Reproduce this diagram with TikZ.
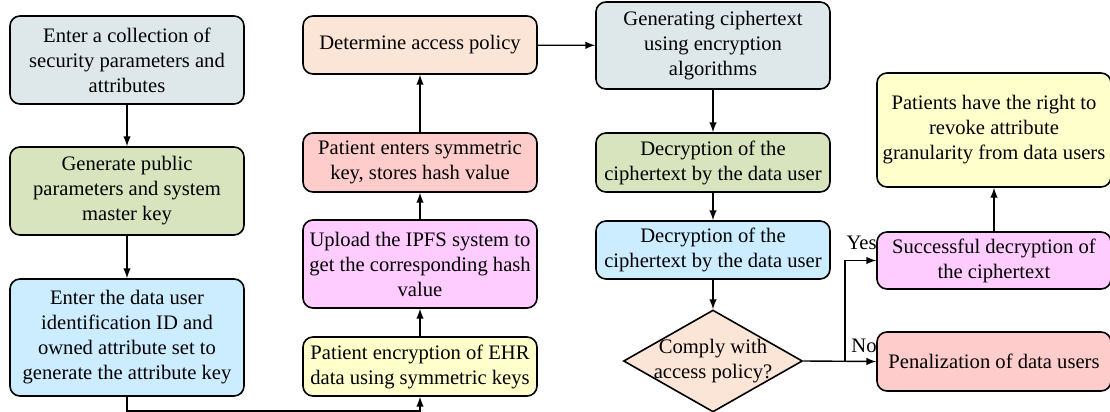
\documentclass[tikz,border=0pt]{standalone}
\usepackage{fontspec}
\setmainfont{Liberation Serif}
\newfontfamily\timesfont{Liberation Serif}
\usepackage{tikz}
\usetikzlibrary{positioning}
\usetikzlibrary{shapes}
\usetikzlibrary{arrows}

\definecolor{greyblue}{RGB}{222,232,235}
\definecolor{olivegreen}{RGB}{215,228,189}
\definecolor{skyblue}{RGB}{204,236,255}
\definecolor{paleyellow}{RGB}{255,255,204}
\definecolor{pinkmag}{RGB}{255,204,255}
\definecolor{salmon}{RGB}{255,204,204}
\definecolor{peach}{RGB}{251,229,214}

\begin{document}
\begin{tikzpicture}[x=0.5pt,y=-0.5pt,>=latex,
	box/.style={rectangle, rounded corners=5pt, draw, line width=0.8pt, minimum width=117pt, align=center, inner sep=2pt, font=\timesfont\fontsize{10.3}{12.5}\selectfont},
	decision/.style={diamond, aspect=1.75, draw, line width=0.8pt, fill=peach, align=center, inner sep=-1.5pt, minimum width=89.5pt, minimum height=51pt, font=\timesfont\fontsize{10.3}{12.5}\selectfont},
	flow/.style={line width=0.7pt, ->}]
	\useasboundingbox (0,0) rectangle (1110,412);
	
	% first column
	\node[box, fill=greyblue, minimum height=44pt] (setup) at (127,60) {Enter a collection of\\security parameters and\\attributes};
	\node[box, fill=olivegreen, minimum height=44pt] (keygen) at (127,191) {Generate public\\parameters and system\\master key};
	\node[box, fill=skyblue, minimum height=58.5pt] (attrkey) at (127,337.5) {Enter the data user\\identification ID and\\owned attribute set to\\generate the attribute key};
	
	% second column
	\node[box, fill=peach, minimum height=29pt] (policy) at (420,45) {Determine access policy};
	\node[box, fill=salmon, minimum height=29.5pt] (storekey) at (420,162.5) {Patient enters symmetric\\key, stores hash value};
	\node[box, fill=pinkmag, minimum height=44pt] (ipfs) at (420,264) {Upload the IPFS system to\\get the corresponding hash\\value};
	\node[box, fill=paleyellow, minimum height=29.5pt] (encrypt) at (420,366.5) {Patient encryption of EHR\\data using symmetric keys};
	
	% third column
	\node[box, fill=greyblue, minimum height=43.5pt] (cipher) at (713,45.5) {Generating ciphertext\\using encryption\\algorithms};
	\node[box, fill=olivegreen, minimum height=29.5pt] (decrypta) at (713,162.5) {Decryption of the\\ciphertext by the data user};
	\node[box, fill=skyblue, minimum height=29pt] (decryptb) at (713,250) {Decryption of the\\ciphertext by the data user};
	\node[decision] (comply) at (713,361) {Comply with\\access policy?};
	
	% fourth column
	\node[box, fill=paleyellow, minimum height=57pt] (revoke) at (994,130) {Patients have the right to\\revoke attribute\\granularity from data users};
	\node[box, fill=pinkmag, minimum height=28.5pt] (success) at (994,260.5) {Successful decryption of\\the ciphertext};
	\node[box, fill=salmon, minimum height=29.5pt] (penalty) at (994,361.5) {Penalization of data users};
	
	\coordinate (split) at (845,361);
	\node[anchor=base east, inner sep=0pt, font=\timesfont\fontsize{10.3}{12.5}\selectfont] (yes) at (877,249) {Yes};
	\node[anchor=base east, inner sep=0pt, font=\timesfont\fontsize{10.3}{12.5}\selectfont] (no) at (877,352) {No};
	
	\draw[flow] (setup) -- (keygen);
	\draw[flow] (keygen) -- (attrkey);
	\draw[flow] (attrkey.south) -- ++(0,14) -| (encrypt.south);
	\draw[flow] (encrypt) -- (ipfs);
	\draw[flow] (ipfs) -- (storekey);
	\draw[flow] (storekey) -- (policy);
	\draw[flow] (policy) -- (cipher);
	\draw[flow] (cipher) -- (decrypta);
	\draw[flow] (decrypta) -- (decryptb);
	\draw[flow] (decryptb) -- (comply);
	\draw[flow] (comply.east) -- (penalty.west);
	\draw[flow] (split) |- (success.west);
	\draw[flow] (success) -- (revoke);
\end{tikzpicture}
\end{document}
